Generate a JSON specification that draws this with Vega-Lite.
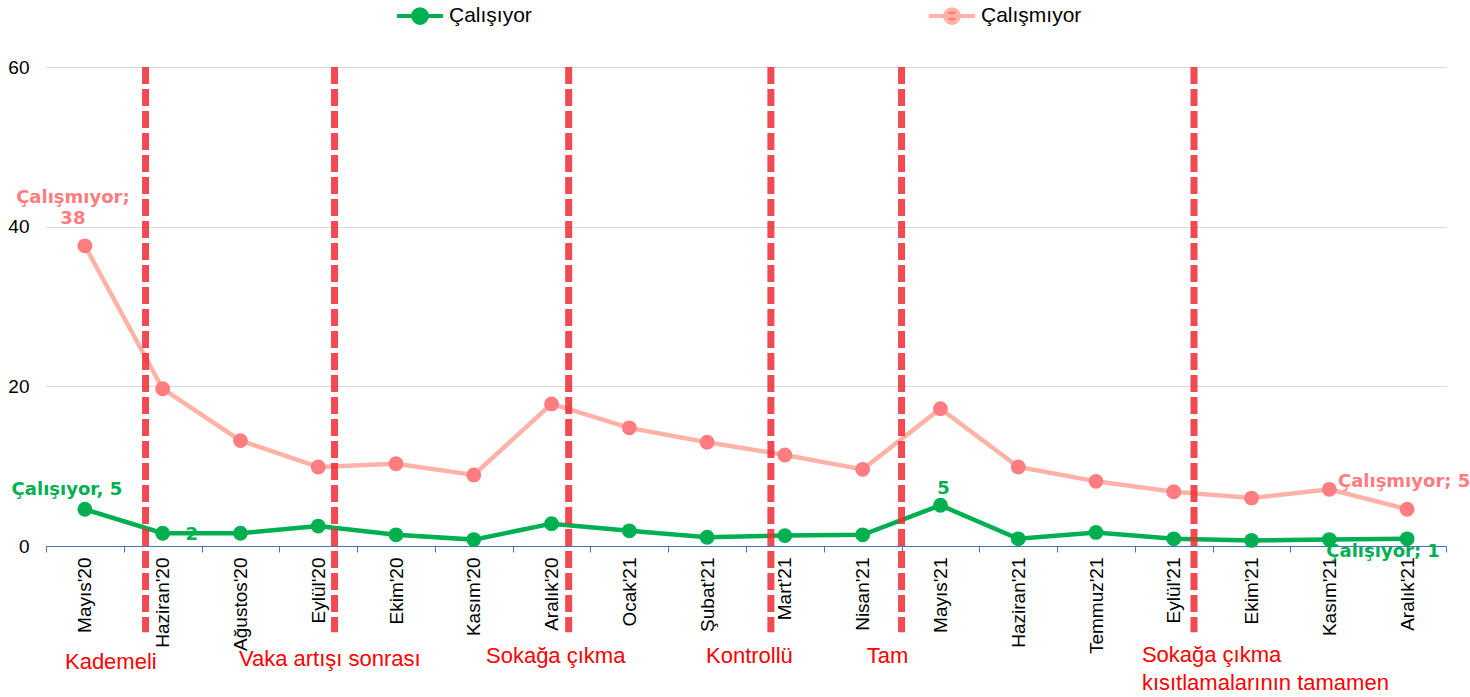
{
  "$schema": "https://vega.github.io/schema/vega-lite/v6.json",
  "width": 1400,
  "height": 479,
  "autosize": {"type": "none"},
  "padding": {"left": 46, "top": 67, "right": 24, "bottom": 151},
  "config": {"view": {"stroke": null}, "font": "Liberation Sans"},
  "datasets": {
    "veri": [
      {"ay": "Mayıs'20", "i": 0, "seri": "Çalışmıyor", "v": 37.6},
      {"ay": "Haziran'20", "i": 1, "seri": "Çalışmıyor", "v": 19.7},
      {"ay": "Ağustos'20", "i": 2, "seri": "Çalışmıyor", "v": 13.2},
      {"ay": "Eylül'20", "i": 3, "seri": "Çalışmıyor", "v": 9.9},
      {"ay": "Ekim'20", "i": 4, "seri": "Çalışmıyor", "v": 10.3},
      {"ay": "Kasım'20", "i": 5, "seri": "Çalışmıyor", "v": 8.9},
      {"ay": "Aralık'20", "i": 6, "seri": "Çalışmıyor", "v": 17.8},
      {"ay": "Ocak'21", "i": 7, "seri": "Çalışmıyor", "v": 14.8},
      {"ay": "Şubat'21", "i": 8, "seri": "Çalışmıyor", "v": 13.0},
      {"ay": "Mart'21", "i": 9, "seri": "Çalışmıyor", "v": 11.4},
      {"ay": "Nisan'21", "i": 10, "seri": "Çalışmıyor", "v": 9.6},
      {"ay": "Mayıs'21", "i": 11, "seri": "Çalışmıyor", "v": 17.2},
      {"ay": "Haziran'21", "i": 12, "seri": "Çalışmıyor", "v": 9.9},
      {"ay": "Temmuz'21", "i": 13, "seri": "Çalışmıyor", "v": 8.1},
      {"ay": "Eylül'21", "i": 14, "seri": "Çalışmıyor", "v": 6.8},
      {"ay": "Ekim'21", "i": 15, "seri": "Çalışmıyor", "v": 6.0},
      {"ay": "Kasım'21", "i": 16, "seri": "Çalışmıyor", "v": 7.1},
      {"ay": "Aralık'21", "i": 17, "seri": "Çalışmıyor", "v": 4.6},
      {"ay": "Mayıs'20", "i": 0, "seri": "Çalışıyor", "v": 4.6},
      {"ay": "Haziran'20", "i": 1, "seri": "Çalışıyor", "v": 1.6},
      {"ay": "Ağustos'20", "i": 2, "seri": "Çalışıyor", "v": 1.6},
      {"ay": "Eylül'20", "i": 3, "seri": "Çalışıyor", "v": 2.5},
      {"ay": "Ekim'20", "i": 4, "seri": "Çalışıyor", "v": 1.4},
      {"ay": "Kasım'20", "i": 5, "seri": "Çalışıyor", "v": 0.8},
      {"ay": "Aralık'20", "i": 6, "seri": "Çalışıyor", "v": 2.8},
      {"ay": "Ocak'21", "i": 7, "seri": "Çalışıyor", "v": 1.9},
      {"ay": "Şubat'21", "i": 8, "seri": "Çalışıyor", "v": 1.1},
      {"ay": "Mart'21", "i": 9, "seri": "Çalışıyor", "v": 1.3},
      {"ay": "Nisan'21", "i": 10, "seri": "Çalışıyor", "v": 1.4},
      {"ay": "Mayıs'21", "i": 11, "seri": "Çalışıyor", "v": 5.1},
      {"ay": "Haziran'21", "i": 12, "seri": "Çalışıyor", "v": 0.9},
      {"ay": "Temmuz'21", "i": 13, "seri": "Çalışıyor", "v": 1.7},
      {"ay": "Eylül'21", "i": 14, "seri": "Çalışıyor", "v": 0.9},
      {"ay": "Ekim'21", "i": 15, "seri": "Çalışıyor", "v": 0.7},
      {"ay": "Kasım'21", "i": 16, "seri": "Çalışıyor", "v": 0.8},
      {"ay": "Aralık'21", "i": 17, "seri": "Çalışıyor", "v": 0.9}
    ],
    "kisit": [
      {"i": 0.78},
      {"i": 3.21},
      {"i": 6.22},
      {"i": 8.82},
      {"i": 10.5},
      {"i": 14.26}
    ],
    "notlar": [
      {"t": "Kademeli", "i": -0.256, "v": -14.5},
      {"t": "Vaka artışı sonrası", "i": 1.98, "v": -14.2},
      {"t": "Sokağa çıkma", "i": 5.157, "v": -13.8},
      {"t": "Kontrollü", "i": 7.986, "v": -13.8},
      {"t": "Tam", "i": 10.054, "v": -13.8},
      {"t": "Sokağa çıkma", "i": 13.59, "v": -13.6},
      {"t": "kısıtlamalarının tamamen", "i": 13.59, "v": -17.1}
    ]
  },
  "encoding": {
    "x": {
      "field": "i",
      "type": "quantitative",
      "scale": {"domain": [-0.5, 17.5], "nice": false, "zero": false},
      "axis": {
        "title": null,
        "values": [-0.5, 0, 0.5, 1, 1.5, 2, 2.5, 3, 3.5, 4, 4.5, 5, 5.5, 6, 6.5, 7, 7.5, 8, 8.5, 9, 9.5, 10, 10.5, 11, 11.5, 12, 12.5, 13, 13.5, 14, 14.5, 15, 15.5, 16, 16.5, 17, 17.5],
        "labelExpr": "datum.value % 1 === 0 ? [\"Mayıs'20\", \"Haziran'20\", \"Ağustos'20\", \"Eylül'20\", \"Ekim'20\", \"Kasım'20\", \"Aralık'20\", \"Ocak'21\", \"Şubat'21\", \"Mart'21\", \"Nisan'21\", \"Mayıs'21\", \"Haziran'21\", \"Temmuz'21\", \"Eylül'21\", \"Ekim'21\", \"Kasım'21\", \"Aralık'21\"][datum.value] : ''",
        "labelAngle": 270,
        "labelAlign": "right",
        "labelBaseline": "middle",
        "labelFont": "Liberation Sans",
        "labelFontSize": 19,
        "labelColor": "#000000",
        "labelPadding": 5,
        "labelOverlap": false,
        "labelFlush": false,
        "labelBound": false,
        "tickSize": 6,
        "tickColor": "#4472C4",
        "tickWidth": 1,
        "tickOpacity": {"condition": {"test": "datum.value % 1 !== 0", "value": 1}, "value": 0},
        "domainColor": "#4472C4",
        "domainWidth": 1.2,
        "grid": false
      }
    }
  },
  "layer": [
    {
      "data": {"name": "veri"},
      "mark": {"type": "line", "strokeWidth": 4.5},
      "encoding": {
        "y": {
          "field": "v",
          "type": "quantitative",
          "scale": {"domain": [0, 60], "nice": false},
          "axis": {
            "title": null,
            "values": [0, 20, 40, 60],
            "domain": false,
            "ticks": false,
            "labelPadding": 17,
            "labelFont": "Liberation Sans",
            "labelFontSize": 19,
            "labelColor": "#000000",
            "gridColor": "#D9D9D9",
            "gridWidth": 1
          }
        },
        "color": {
          "field": "seri",
          "type": "nominal",
          "scale": {"domain": ["Çalışıyor", "Çalışmıyor"], "range": ["#00B050", "#FFB3A7"]},
          "legend": {
            "title": null,
            "orient": "none",
            "legendX": 349,
            "legendY": -76,
            "direction": "horizontal",
            "columns": 2,
            "columnPadding": 371,
            "gridAlign": "all",
            "padding": 0,
            "labelFont": "Liberation Sans",
            "labelFontSize": 21,
            "labelColor": "#000000",
            "labelOffset": 4,
            "symbolType": "M-1,0L1,0M-0.3,0A0.3,0.3,0,1,1,0.3,0A0.3,0.3,0,1,1,-0.3,0Z",
            "symbolSize": 2116,
            "symbolStrokeWidth": 4,
            "encode": {
              "symbols": {
                "update": {
                  "fill": [{"test": "datum.value === 'Çalışıyor'", "value": "#00B050"}, {"value": "#FF7C80"}],
                  "fillOpacity": {"value": 1}
                }
              }
            }
          }
        }
      }
    },
    {
      "data": {"name": "veri"},
      "mark": {"type": "point", "filled": true, "size": 220, "opacity": 1},
      "encoding": {
        "y": {"field": "v", "type": "quantitative", "axis": {"title": null}},
        "fill": {
          "field": "seri",
          "type": "nominal",
          "scale": {"domain": ["Çalışıyor", "Çalışmıyor"], "range": ["#00B050", "#FF7C80"]},
          "legend": null
        }
      }
    },
    {
      "data": {"name": "kisit"},
      "mark": {"type": "rule", "color": "#F02A34", "opacity": 0.85, "strokeWidth": 7, "strokeDash": [17, 5]},
      "encoding": {
        "y": {"datum": 60, "type": "quantitative", "axis": {"title": null}},
        "y2": {"datum": -10.8}
      }
    },
    {
      "data": {"name": "notlar"},
      "mark": {"type": "text", "align": "left", "baseline": "middle", "font": "Liberation Sans", "fontSize": 22, "color": "#FF0000"},
      "encoding": {
        "y": {"field": "v", "type": "quantitative", "axis": {"title": null}},
        "text": {"field": "t"}
      }
    },
    {
      "data": {"name": "veri"},
      "transform": [{"filter": "datum.seri === 'Çalışmıyor' && datum.i === 0"}],
      "mark": {"type": "text", "font": "DejaVu Sans", "fontWeight": "bold", "fontSize": 18, "color": "#FF7C80", "align": "center", "baseline": "middle", "lineHeight": 21, "dx": -12, "dy": -48},
      "encoding": {
        "y": {"field": "v", "type": "quantitative", "axis": {"title": null}},
        "text": {"value": ["Çalışmıyor;", "38"]}
      }
    },
    {
      "data": {"name": "veri"},
      "transform": [{"filter": "datum.seri === 'Çalışıyor' && datum.i === 0"}],
      "mark": {"type": "text", "font": "DejaVu Sans", "fontWeight": "bold", "fontSize": 18, "color": "#00B050", "align": "center", "baseline": "middle", "dx": -18, "dy": -19},
      "encoding": {
        "y": {"field": "v", "type": "quantitative", "axis": {"title": null}},
        "text": {"value": "Çalışıyor, 5"}
      }
    },
    {
      "data": {"name": "veri"},
      "transform": [{"filter": "datum.seri === 'Çalışıyor' && datum.i === 1"}],
      "mark": {"type": "text", "font": "DejaVu Sans", "fontWeight": "bold", "fontSize": 18, "color": "#00B050", "align": "center", "baseline": "middle", "dx": 29, "dy": 2},
      "encoding": {
        "y": {"field": "v", "type": "quantitative", "axis": {"title": null}},
        "text": {"value": "2"}
      }
    },
    {
      "data": {"name": "veri"},
      "transform": [{"filter": "datum.seri === 'Çalışıyor' && datum.i === 11"}],
      "mark": {"type": "text", "font": "DejaVu Sans", "fontWeight": "bold", "fontSize": 18, "color": "#00B050", "align": "center", "baseline": "middle", "dx": 3, "dy": -16},
      "encoding": {
        "y": {"field": "v", "type": "quantitative", "axis": {"title": null}},
        "text": {"value": "5"}
      }
    },
    {
      "data": {"name": "veri"},
      "transform": [{"filter": "datum.seri === 'Çalışmıyor' && datum.i === 17"}],
      "mark": {"type": "text", "font": "DejaVu Sans", "fontWeight": "bold", "fontSize": 18, "color": "#FF7C80", "align": "center", "baseline": "middle", "dx": -3, "dy": -27},
      "encoding": {
        "y": {"field": "v", "type": "quantitative", "axis": {"title": null}},
        "text": {"value": "Çalışmıyor; 5"}
      }
    },
    {
      "data": {"name": "veri"},
      "transform": [{"filter": "datum.seri === 'Çalışıyor' && datum.i === 17"}],
      "mark": {"type": "text", "font": "DejaVu Sans", "fontWeight": "bold", "fontSize": 18, "color": "#00B050", "align": "center", "baseline": "middle", "dx": -24, "dy": 13},
      "encoding": {
        "y": {"field": "v", "type": "quantitative", "axis": {"title": null}},
        "text": {"value": "Çalışıyor; 1"}
      }
    }
  ]
}
